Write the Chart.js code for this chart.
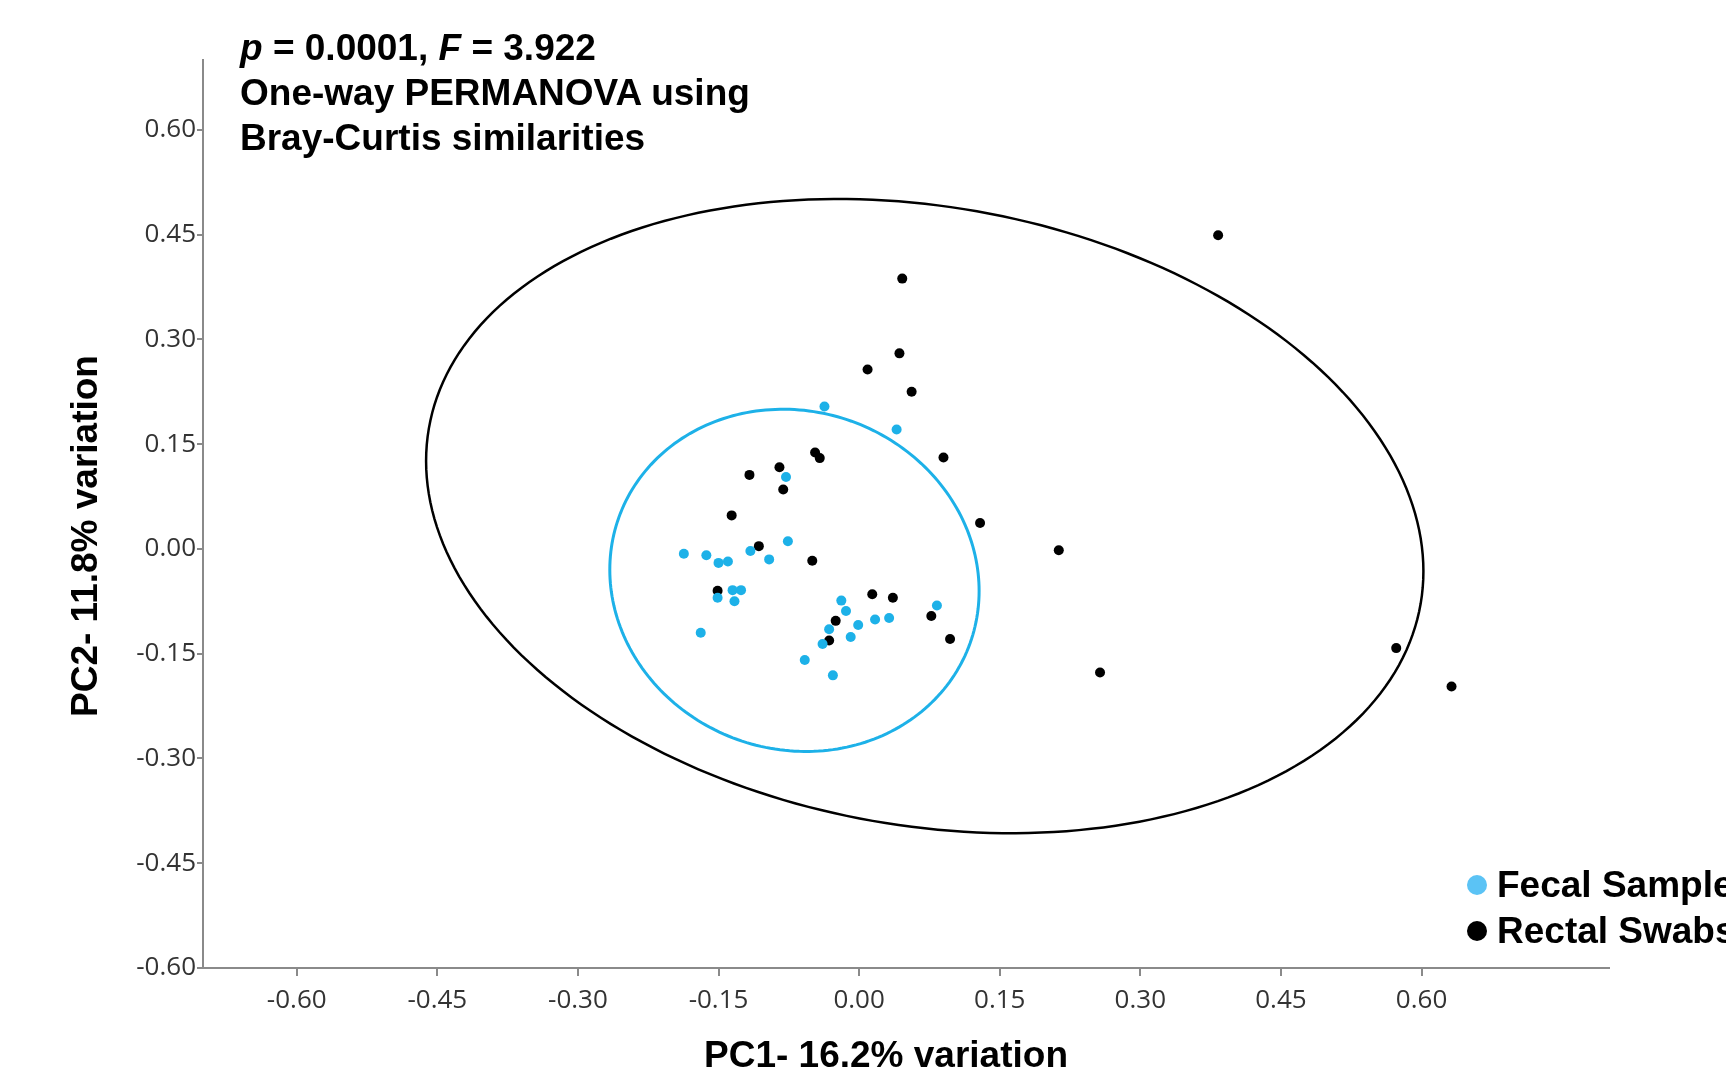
<!DOCTYPE html>
<html>
<head>
<meta charset="utf-8">
<title>PCoA – Fecal Samples vs Rectal Swabs</title>
<script src="https://cdn.jsdelivr.net/npm/chart.js@4.4.1/dist/chart.umd.min.js"></script>
<style>
  html, body { margin: 0; padding: 0; background: #fff; overflow: hidden; }
  #wrap { position: relative; width: 1726px; height: 1078px; }
  #note {
    position: absolute; left: 240px; top: 25px;
    font: bold 37px 'Liberation Sans', Arial, sans-serif;
    line-height: 45px; color: #000; white-space: nowrap;
  }
  #legend {
    position: absolute; left: 1467px; top: 862px;
    font: bold 37px 'Liberation Sans', Arial, sans-serif;
    line-height: 46px; color: #000; white-space: nowrap;
  }
  .row { display: flex; align-items: center; }
  .dot { width: 20px; height: 20px; border-radius: 50%; margin-right: 10px; flex: none; }
</style>
</head>
<body>
<div id="wrap">
  <canvas id="chart" width="1726" height="1078"></canvas>
  <div id="note">
    <i>p</i> = 0.0001, <i>F</i> = 3.922<br>
    One-way PERMANOVA using<br>
    Bray-Curtis similarities
  </div>
  <div id="legend"></div>
</div>
<script>
// tick labels
const xTickValues = [-0.60, -0.45, -0.30, -0.15, 0.00, 0.15, 0.30, 0.45, 0.60]
const yTickValues = [-0.60, -0.45, -0.30, -0.15, 0.00, 0.15, 0.30, 0.45, 0.60]

// PC1 / PC2 scores
const fecalX = [-0.037, 0.040, -0.078, -0.076, -0.187, -0.163, -0.150, -0.140, -0.116, -0.096,
  -0.135, -0.126, -0.151, -0.133, -0.169, 0.083, -0.019, -0.014, -0.001, 0.017,
  0.032, -0.009, -0.032, -0.039, -0.058, -0.028]
const fecalY = [0.204, 0.171, 0.103, 0.011, -0.007, -0.009, -0.020, -0.018, -0.003, -0.015,
  -0.059, -0.059, -0.070, -0.075, -0.120, -0.081, -0.074, -0.089, -0.109, -0.101,
  -0.099, -0.126, -0.115, -0.136, -0.159, -0.181]

const rectalX = [0.383, 0.046, 0.043, 0.009, 0.056, 0.090, -0.047, -0.042, -0.085, -0.117,
  -0.081, -0.136, 0.129, -0.107, 0.213, -0.050, -0.151, 0.014, 0.036, 0.077,
  0.097, -0.025, -0.032, 0.257, 0.573, 0.632]
const rectalY = [0.449, 0.387, 0.280, 0.257, 0.225, 0.131, 0.138, 0.130, 0.117, 0.106,
  0.085, 0.048, 0.037, 0.004, -0.002, -0.017, -0.060, -0.065, -0.070, -0.096,
  -0.129, -0.103, -0.131, -0.177, -0.142, -0.197]

// confidence ellipses (data units): centre, x / y half-extent, covariance term
const fecalEllipse = { cx: -0.069, cy: -0.045, sx: 0.197, sy: 0.245, sxy: -0.003 }
const rectalEllipse = { cx: 0.070, cy: 0.047, sx: 0.532, sy: 0.454, sxy: -0.042 }

const BLUE = '#1DB1E8'
const BLUE_LEGEND = '#5BC3F5'
const BLACK = '#000000'
const AXIS = '#8a8a8a'
const TICK_FONT = { family: "'Open Sans', 'Noto Sans', sans-serif", size: 26 }
const TITLE_FONT = "bold 37px 'Liberation Sans', Arial, sans-serif"

function toPoints (xs, ys) {
  return xs.map((x, i) => ({ x, y: ys[i] }))
}

const ellipsePlugin = {
  id: 'ellipses',
  beforeDatasetsDraw (chart, args, opts) {
    const { ctx, scales: { x, y } } = chart
    opts.items.forEach(e => {
      const ay = e.sxy / e.sx
      const by = Math.sqrt(e.sy * e.sy - ay * ay)
      ctx.save()
      ctx.beginPath()
      for (let i = 0; i <= 240; i++) {
        const t = i / 240 * Math.PI * 2
        const px = x.getPixelForValue(e.cx + e.sx * Math.cos(t))
        const py = y.getPixelForValue(e.cy + ay * Math.cos(t) + by * Math.sin(t))
        if (i === 0) ctx.moveTo(px, py)
        else ctx.lineTo(px, py)
      }
      ctx.closePath()
      ctx.lineWidth = e.width
      ctx.strokeStyle = e.color
      ctx.stroke()
      ctx.restore()
    })
  }
}

// axis titles sit a little off-centre in the original, so draw them by hand
const axisTitlePlugin = {
  id: 'axisTitles',
  afterDraw (chart, args, opts) {
    const { ctx, chartArea: a } = chart
    ctx.save()
    ctx.font = TITLE_FONT
    ctx.fillStyle = '#000'
    ctx.textAlign = 'center'
    ctx.textBaseline = 'middle'
    ctx.fillText(opts.x.text, (a.left + a.right) / 2 + opts.x.shift, chart.height - opts.x.inset)
    ctx.translate(opts.y.inset, (a.top + a.bottom) / 2 + opts.y.shift)
    ctx.rotate(-Math.PI / 2)
    ctx.fillText(opts.y.text, 0, 0)
    ctx.restore()
  }
}

function axis (min, max, tickValues, side) {
  const isX = side === 'x'
  return {
    type: 'linear',
    min,
    max,
    afterBuildTicks: s => { s.ticks = tickValues.map(v => ({ value: v })) },
    afterFit: s => {
      if (isX) s.height = 110
      else s.width = 203
    },
    ticks: {
      autoSkip: false,
      maxRotation: 0,
      minRotation: 0,
      padding: isX ? 9 : 1,
      color: '#333',
      font: TICK_FONT,
      callback: v => Number(v).toFixed(2)
    },
    grid: {
      display: true,
      drawOnChartArea: false,
      drawTicks: true,
      tickLength: isX ? 8 : 6,
      color: AXIS,
      lineWidth: 2
    },
    border: { display: true, color: AXIS, width: 2 },
    title: { display: false }
  }
}

const datasets = [
  { label: 'Fecal Samples', data: toPoints(fecalX, fecalY), backgroundColor: BLUE, legendColor: BLUE_LEGEND },
  { label: 'Rectal Swabs', data: toPoints(rectalX, rectalY), backgroundColor: BLACK, legendColor: BLACK }
].map(d => ({ ...d, pointRadius: 5, pointHoverRadius: 5, borderWidth: 0 }))

const chart = new Chart(document.getElementById('chart'), {
  type: 'scatter',
  data: { datasets },
  options: {
    responsive: false,
    animation: false,
    devicePixelRatio: 1,
    layout: { padding: { top: 60, right: 117, bottom: 0, left: 0 } },
    plugins: {
      legend: { display: false },
      tooltip: { enabled: false },
      ellipses: {
        items: [
          { ...rectalEllipse, color: BLACK, width: 2.5 },
          { ...fecalEllipse, color: BLUE, width: 3 }
        ]
      },
      axisTitles: {
        x: { text: 'PC1- 16.2% variation', shift: -20, inset: 21 },
        y: { text: 'PC2- 11.8% variation', shift: 22, inset: 87 }
      }
    },
    scales: {
      x: axis(-0.70, 0.80, xTickValues, 'x'),
      y: axis(-0.60, 0.70, yTickValues, 'y')
    }
  },
  plugins: [ellipsePlugin, axisTitlePlugin]
})

// legend sits inside the lower right of the plot, as in the original
const legendEl = document.getElementById('legend')
chart.data.datasets.forEach(d => {
  const row = document.createElement('div')
  row.className = 'row'
  row.innerHTML = `<span class="dot" style="background:${d.legendColor}"></span><span>${d.label}</span>`
  legendEl.appendChild(row)
})
</script>
</body>
</html>
